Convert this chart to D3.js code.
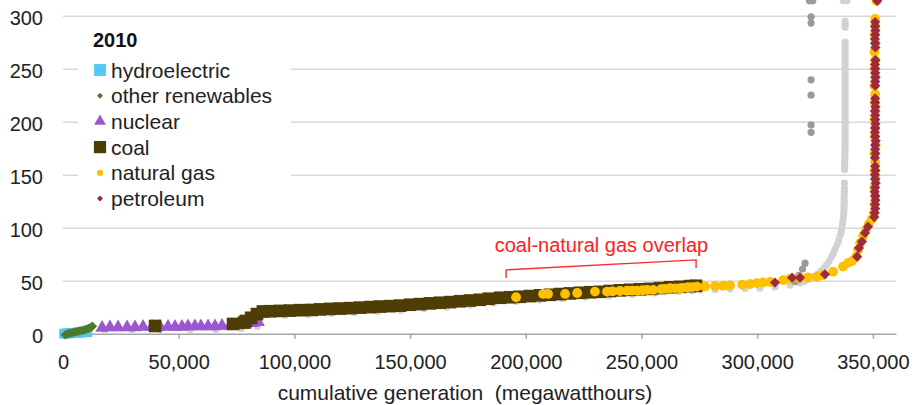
<!DOCTYPE html>
<html>
<head>
<meta charset="utf-8">
<script src="https://cdn.jsdelivr.net/npm/d3@7"></script>
<style>
  html, body { margin: 0; padding: 0; background: #fff; }
  svg { display: block; font-family: "Liberation Sans", Arial, sans-serif; }
</style>
</head>
<body>
<svg id="chart" width="915" height="405"></svg>
<script>
// ---------------- DATA ----------------
const xTicks = [0, 50000, 100000, 150000, 200000, 250000, 300000, 350000];
const yTicks = [0, 50, 100, 150, 200, 250, 300];
const legendTitle = "2010";
const seriesNames = ["hydroelectric", "other renewables", "nuclear", "coal", "natural gas", "petroleum"];
const xTitle = "cumulative generation  (megawatthours)";
const annotationText = "coal-natural gas overlap";

// [cumulative MWh, $/MWh]
const hydroelectric = [[500,0],[1800,0.3],[3000,0.5],[4300,0.6],[5500,0.8],[6800,1],[8000,1.2],[9300,1.5],[10500,1.5]];
const otherRenewables = [[1000,-1],[2000,0],[3000,0.5],[4000,1],[5000,1.5],[6000,2],[7000,2.5],[8000,3],[9000,3.6],[10000,4.2],[11000,5],[12000,6],[12700,7]];
const nuclear = [[16900,5.5],[20300,6],[23800,6],[27700,6],[31100,6],[34600,6.5],[38500,6.5],[41900,6.5],[45400,6.5],[48400,6.5],[51400,6.5],[54000,7],[57000,7],[59600,7],[62700,7],[65700,7],[68700,7.5],[72200,7.5],[75600,8],[78700,8.5],[81700,10],[84300,11]];
const coal = [[39800,7.3],[73500,9.2],[78300,10.5],[79000,12],[81300,15],[83800,18.5],[86400,21],
  [89500,21.2],[93800,21.5],[98100,21.8],[102400,22.2],[107500,22.4],[111100,22.9],[115400,23.4],[119700,23.7],[124000,24.1],[128400,24.6],[132700,25.1],[137000,25.6],[141300,26],[145700,26.5],[150000,27.3],[154300,27.9],[158600,28.6],[162900,29.2],[167300,29.8],[171600,30.6],[175900,31.3],[180200,32],[184000,33],[188900,33.9],[193200,34.4],[197500,34.8],[201800,35.5],[206200,36.2],[210500,36.7],[214800,37.4],[219100,38],[223400,38.6],[227800,39.1],[232100,39.5],[236400,40.3],[240700,40.9],[245100,41.4],[249400,41.9],[253700,42.3],[258000,43],[262300,43.8],[266700,44.2],[271000,44.9],[273600,45.2]];
const naturalGas = [[195800,34.4],[207500,37.5],[209600,37.5],[217000,37.5],[222200,38.4],[229900,39.7],[235100,39.7],[237500,40],[240700,40.3],[243800,40.6],[246000,40.6],[248100,40.6],[250500,41],[252400,41.3],[255000,41.3],[258500,42],[260000,42.3],[262300,42.9],[264500,42.8],[266700,42.9],[268000,43.3],[270100,43.8],[272000,44],
  [274000,44.4],[277500,44.6],[281800,45],[285300,45.3],[288300,45.6],[293500,46.3],[296900,46.9],[299900,47.8],[302500,48.3],[305600,48.8],[311200,50.5],[314200,51.8],[318500,52.6],[322000,53.2],[325900,53.8],[328500,55.4],[332800,58.5],[337100,63.3],[339300,66.8],[341000,68.5],[342700,72.4],[343600,79],[344500,85.6],[345800,92.2],[347000,97.9],[348300,103.6],[349600,108.3],[350500,114],
  [350800,122],[351000,130],[350700,138],[351100,146],[350800,154],[351000,162],[350700,170],[351200,178],[350800,186],[351000,194],[350700,202],[351100,210],[350800,218],[351000,226],[350700,234],[351100,242],[350800,250],[351000,258],[350700,266],[351100,274],[350800,282],[351000,290],[351000,297],[351600,314]];
const petroleum = [[307700,48.2],[315100,52.9],[318500,52.9],[329300,56.1],[343200,72.7],[344000,80.9],[345300,86.9],[346600,95.1],[347900,101],
  [350600,110],[350800,114],[351000,118],[350900,122],[351100,126],[351000,130],[350800,134],[351000,138],[351200,142],[351000,146],[350900,150],[351100,154],[351000,158],[350900,166],[351100,170],[351000,174],[351000,178],[351200,182],[351000,186],[350900,190],[351000,194],[351100,198],[351000,202],[351000,206],[350900,210],[351100,214],[351000,218],[351000,222],[351000,234],[351000,238],[351100,242],[351000,246],[351000,250],[350900,254],[351100,258],[351100,270],[351000,274],[350900,278],[351000,282],[351100,286],[351000,290],[351000,294],[351900,314]];
const otherLight = [[18000,4],[30000,4],[42000,4],[55000,4],[66000,4],[77000,5],[84000,7],
  [86000,17],[96000,17.5],[106000,18],[116000,19],[126000,20],[136000,21],[146000,22],[156000,23.5],[166000,25],[176000,27],[186000,29],[196000,30.5],[206000,32],[216000,33],[226000,34.5],[236000,35.5],[246000,37],[256000,38.5],[266000,40],[272000,40.5],
  [275300,41.2],[281800,41.7],[288300,42.2],[294800,42.7],[301200,43.2],[307700,44.1],[314200,46],[318500,47.9],[320500,49.5],[322900,51.7],[324500,53.8],[326300,56.4],[327600,59],[328900,62],[330000,65],[331100,68.6],[332000,72],[332800,75.3],[333600,79.5],[334500,83.8],[335200,88],[335800,92.3],[336300,96],[336700,99.8],[336900,103.5],[337100,107.3],
  [337300,110],[337400,113],[337500,116],[337500,119],[337600,122],[337600,125],[337600,128],[337600,131],[337700,134],[337700,137],[337700,142],[337800,155],[337800,158],[337800,161],[337900,164],[337900,167],[337900,170],[337900,173],[338000,176],[338000,179],[338000,182],[338000,185],[338000,188],[338000,191],[338000,194],[338000,197],[338000,200],[338000,203],[338000,206],[338000,209],[338000,212],[338000,215],[338000,218],[338000,221],[338000,224],[338000,227],[338000,230],[338000,233],[338000,236],[338000,239],[338000,242],[338000,245],[338000,248],[338000,251],[338000,254],[338000,257],[338000,260],[338000,263],[338000,266],[338000,269],[338000,272],[338000,275],[338000,289],[338000,292],[338000,295],[337200,314],[338800,314]];
const otherDark = [[316400,49],[318000,55],[319600,61],[320700,66.5],[323300,190],[323300,197],[323300,225],[323300,239.5],[323300,293],[323300,299],[322600,314],[324000,314]];
// bracket of the annotation: [x, y] in data units
const bracket = [[191500,52.6],[191500,60.2],[273600,69.6],[273600,62]];
const annotationAnchor = [232700, 77];

// ---------------- CHART ----------------
const svg = d3.select("#chart");
const x = d3.scaleLinear().domain([0, 360000]).range([63, 896]);
const y = d3.scaleLinear().domain([0, 300]).range([333.7, 15.7]);
const textColor = "#222";

// y gridlines + labels
const yAxis = svg.append("g").attr("transform", "translate(63,0)")
  .call(d3.axisLeft(y).tickValues(yTicks).tickSize(-(896 - 63)).tickPadding(20));
yAxis.select(".domain").remove();
yAxis.selectAll(".tick line").attr("stroke", "#d9d9d9").attr("stroke-width", 1.5)
  .filter(d => d === 0).remove();
yAxis.selectAll(".tick text").attr("fill", textColor).attr("font-size", 20).attr("dy", "0.42em");

// x axis
const xAxis = svg.append("g").attr("transform", `translate(0,${y(0)})`)
  .call(d3.axisBottom(x).tickValues(xTicks).tickSize(5).tickSizeOuter(0).tickPadding(16).tickFormat(d3.format(",")));
xAxis.select(".domain").attr("stroke", "#a6a6a6").attr("stroke-width", 1.5);
xAxis.selectAll(".tick line").attr("stroke", "#a6a6a6").attr("stroke-width", 1.5);
xAxis.selectAll(".tick text").attr("fill", textColor).attr("font-size", 20);

svg.append("text").attr("x", 465).attr("y", 400).attr("text-anchor", "middle")
  .attr("font-size", 21).attr("fill", textColor).style("white-space", "pre").text(xTitle);

// marks
const plot = svg.append("g");
function circles(data, r, color) {
  plot.append("g").selectAll("circle").data(data).join("circle")
    .attr("cx", d => x(d[0])).attr("cy", d => y(d[1])).attr("r", r).attr("fill", color);
}
function symbols(data, type, size, color, rot) {
  const p = d3.symbol().type(type).size(size)();
  plot.append("g").selectAll("path").data(data).join("path")
    .attr("d", p).attr("fill", color)
    .attr("transform", d => `translate(${x(d[0])},${y(d[1])})` + (rot ? ` rotate(${rot})` : ""));
}
const colors = {
  hydro: "#55c8f3", renew: "#4d7b2c", nuclear: "#9b57cf", coal: "#4e3d05",
  gas: "#ffc000", petro: "#9c2b3f", light: "#d2d2d2", dark: "#9a9a9a"
};
circles(otherLight, 3.6, colors.light);
circles(otherDark, 3.6, colors.dark);
symbols(hydroelectric, d3.symbolSquare, 100, colors.hydro);
symbols(otherRenewables, d3.symbolSquare, 45, colors.renew, 45);
symbols(nuclear, d3.symbolTriangle, 80, colors.nuclear);
symbols(coal, d3.symbolSquare, 160, colors.coal);
circles(naturalGas, 4.9, colors.gas);
symbols(petroleum, d3.symbolSquare, 52, colors.petro, 45);

// annotation
svg.append("path")
  .attr("d", d3.line().x(d => x(d[0])).y(d => y(d[1]))(bracket))
  .attr("fill", "none").attr("stroke", "#ff2a2a").attr("stroke-width", 1.4);
svg.append("text").attr("x", x(annotationAnchor[0])).attr("y", y(annotationAnchor[1]))
  .attr("text-anchor", "middle").attr("font-size", 20).attr("fill", "#ff2020").text(annotationText);

// legend
const lg = svg.append("g");
lg.append("rect").attr("x", 78).attr("y", 24).attr("width", 213).attr("height", 191).attr("fill", "#fff");
lg.append("text").attr("x", 93).attr("y", 46.7).attr("font-size", 20).attr("font-weight", "bold")
  .attr("fill", "#111").text(legendTitle);
const legendSym = [
  {type: d3.symbolSquare, size: 140, color: colors.hydro, rot: 0},
  {type: d3.symbolSquare, size: 18, color: colors.renew, rot: 45},
  {type: d3.symbolTriangle, size: 60, color: colors.nuclear, rot: 0},
  {type: d3.symbolSquare, size: 150, color: colors.coal, rot: 0},
  {type: d3.symbolCircle, size: 30, color: colors.gas, rot: 0},
  {type: d3.symbolSquare, size: 18, color: colors.petro, rot: 45}
];
seriesNames.forEach((name, i) => {
  const by = 77.5 + i * 25.7;
  const s = legendSym[i];
  lg.append("path").attr("d", d3.symbol().type(s.type).size(s.size)())
    .attr("fill", s.color)
    .attr("transform", `translate(100,${by - 7.5})` + (s.rot ? ` rotate(${s.rot})` : ""));
  lg.append("text").attr("x", 111).attr("y", by).attr("font-size", 21).attr("fill", textColor).text(name);
});
</script>
</body>
</html>
